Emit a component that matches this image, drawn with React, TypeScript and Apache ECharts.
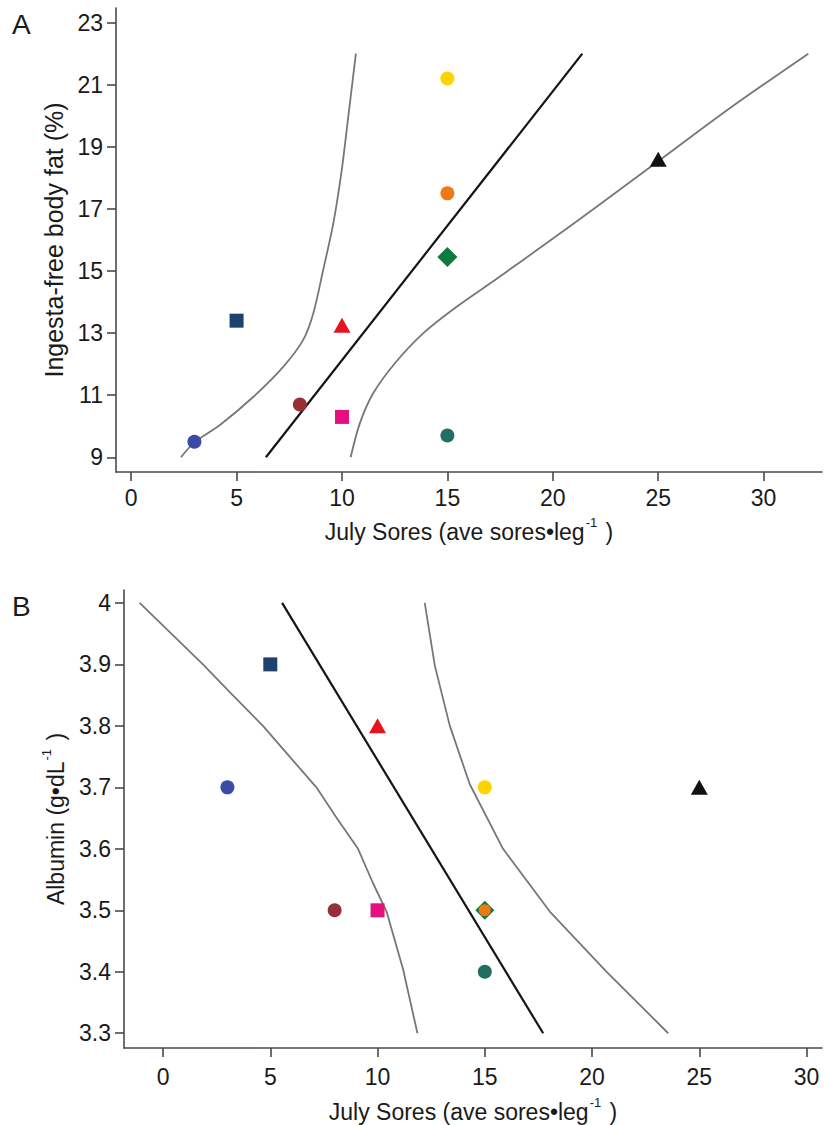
import React, { useEffect, useRef } from "react";
import * as echarts from "echarts";

// ---- data ----
const sores = [3, 5, 8, 10, 10, 15, 15, 15, 15, 25];
const bodyFat = [9.5, 13.4, 10.7, 13.25, 10.3, 9.7, 15.45, 17.5, 21.2, 18.6];
const albumin = [3.7, 3.9, 3.5, 3.8, 3.5, 3.4, 3.5, 3.5, 3.7, 3.7];

const xTicks = [0, 5, 10, 15, 20, 25, 30];
const yTicksA = [9, 11, 13, 15, 17, 19, 21, 23];
const yTicksB = [3.3, 3.4, 3.5, 3.6, 3.7, 3.8, 3.9, 4];

// fitted line and 95% CI bands, panel A
const fitAX = [6.39, 21.4];
const fitAY = [9.0, 22.0];
const bandALowX = [2.36, 3.0, 4.21, 5.8, 7.22, 8.16, 8.64, 9.11, 9.59, 9.99, 10.3, 10.51, 10.66];
const bandALowY = [9.0, 9.48, 10.04, 10.95, 11.92, 12.78, 13.64, 15.04, 16.54, 18.26, 19.98, 21.16, 22.0];
const bandAHighX = [10.41, 10.85, 11.48, 12.51, 13.86, 15.44, 17.34, 19.71, 22.08, 25.09, 28.41, 32.12];
const bandAHighY = [9.0, 10.1, 11.06, 12.03, 13.0, 13.85, 14.75, 15.9, 17.07, 18.58, 20.25, 22.0];

// fitted line and 95% CI bands, panel B
const fitBX = [5.55, 17.72];
const fitBY = [4.0, 3.3];
const bandBLowX = [-1.09, 1.86, 3.11, 4.66, 5.9, 7.15, 8.08, 9.09, 9.79, 10.42, 11.19, 11.86];
const bandBLowY = [4.0, 3.9, 3.855, 3.8, 3.75, 3.7, 3.651, 3.6, 3.544, 3.498, 3.404, 3.3];
const bandBHighX = [12.2, 12.67, 13.37, 14.3, 15.85, 18.03, 20.68, 23.55];
const bandBHighY = [4.0, 3.898, 3.8, 3.705, 3.6, 3.498, 3.4, 3.3];

// ---- marker styles ----
const markerColors = ["#3A4AA5", "#1D426E", "#953038", "#E8121C", "#E5107E", "#226F62", "#0B7C3A", "#EE7A12", "#FFD300", "#111111"];
const markerSymbols = ["circle", "rect", "circle", "triangle", "rect", "circle", "diamond", "circle", "circle", "triangle"];
const markerSizesA: any[] = [14, 14, 14, [17, 15], 14, 14, [20, 20], 14, 14, [17, 15]];
const markerSizesB: any[] = [14, 14, 14, [17, 15], 14, 14, [19, 19], 12, 14, [17, 15]];

const FONT = "'Liberation Sans', Arial, sans-serif";
const AXIS_COLOR = "#4a4a4a";
const TEXT_COLOR = "#1a1a1a";

function zip(xs: number[], ys: number[]) {
  return xs.map((x, i) => [x, ys[i]]);
}

function scatterData(ys: number[], sizes: any[]) {
  return sores.map((x, i) => ({
    value: [x, ys[i]],
    symbol: markerSymbols[i],
    symbolSize: sizes[i],
    itemStyle: { color: markerColors[i], opacity: 1 },
  }));
}

function richName(size: number) {
  return {
    a: { fontSize: size, fontFamily: FONT, color: TEXT_COLOR, lineHeight: size + 4, verticalAlign: "bottom" },
    s: { fontSize: 13, fontFamily: FONT, color: TEXT_COLOR, lineHeight: 13, verticalAlign: "top", padding: [0, 2, 15, 1] },
  };
}

function xAxis(gridIndex: number, min: number, max: number, nameGap: number, margin: number) {
  return {
    type: "value",
    gridIndex,
    min,
    max,
    axisLine: { show: true, onZero: false, lineStyle: { color: AXIS_COLOR, width: 1.6 } },
    axisTick: { show: true, length: 9, lineStyle: { color: AXIS_COLOR, width: 1.6 }, customValues: xTicks },
    axisLabel: { customValues: xTicks, margin, fontSize: 23, color: TEXT_COLOR, fontFamily: FONT },
    splitLine: { show: false },
    name: "{a|July Sores (ave sores•leg}{s|-1}{a| )}",
    nameLocation: "middle",
    nameGap,
    nameTextStyle: { rich: richName(23) },
  };
}

function yAxis(gridIndex: number, min: number, max: number, ticks: number[], name: string, nameGap: number, nameSize: number) {
  return {
    type: "value",
    gridIndex,
    min,
    max,
    axisLine: { show: true, onZero: false, lineStyle: { color: AXIS_COLOR, width: 1.6 } },
    axisTick: { show: true, length: 9, lineStyle: { color: AXIS_COLOR, width: 1.6 }, customValues: ticks },
    axisLabel: { customValues: ticks, margin: 13, fontSize: 23, color: TEXT_COLOR, fontFamily: FONT },
    splitLine: { show: false },
    name,
    nameLocation: "middle",
    nameGap,
    nameTextStyle: { rich: richName(nameSize), fontSize: nameSize, fontFamily: FONT, color: TEXT_COLOR },
  };
}

function lineSeries(xi: number, data: number[][], color: string, width: number, smooth: any) {
  return {
    type: "line",
    xAxisIndex: xi,
    yAxisIndex: xi,
    data,
    symbol: "none",
    smooth,
    lineStyle: { color, width },
    silent: true,
    z: 2,
  };
}

export default function App() {
  const ref = useRef<HTMLDivElement>(null);
  useEffect(() => {
    if (!ref.current) return;
    const chart = echarts.init(ref.current, undefined, { renderer: "svg" });
    chart.setOption({
      animation: false,
      backgroundColor: "#ffffff",
      grid: [
        { left: 116, top: 8, width: 706, height: 464 },
        { left: 124, top: 590, width: 698, height: 463 },
      ],
      xAxis: [xAxis(0, -0.72, 32.77, 44, 14), xAxis(1, -1.82, 30.72, 48, 17)],
      yAxis: [
        yAxis(0, 8.526, 23.47, yTicksA, "{a|Ingesta-free body fat (%)}", 49, 25),
        yAxis(1, 3.276, 4.021, yTicksB, "{a|Albumin (g•dL}{s|-1}{a| )}", 57, 23),
      ],
      graphic: [
        { type: "text", left: 12, top: 10, style: { text: "A", fontSize: 28, fontFamily: FONT, fill: TEXT_COLOR } },
        { type: "text", left: 12, top: 592, style: { text: "B", fontSize: 28, fontFamily: FONT, fill: TEXT_COLOR } },
      ],
      series: [
        lineSeries(0, zip(bandALowX, bandALowY), "#777777", 1.8, 0.3),
        lineSeries(0, zip(bandAHighX, bandAHighY), "#777777", 1.8, 0.3),
        lineSeries(0, zip(fitAX, fitAY), "#151515", 2.2, false),
        {
          type: "scatter",
          xAxisIndex: 0,
          yAxisIndex: 0,
          data: scatterData(bodyFat, markerSizesA),
          z: 5,
        },
        lineSeries(1, zip(bandBLowX, bandBLowY), "#777777", 1.8, false),
        lineSeries(1, zip(bandBHighX, bandBHighY), "#777777", 1.8, false),
        lineSeries(1, zip(fitBX, fitBY), "#151515", 2.2, false),
        {
          type: "scatter",
          xAxisIndex: 1,
          yAxisIndex: 1,
          data: scatterData(albumin, markerSizesB),
          z: 5,
        },
      ],
    });
    return () => chart.dispose();
  }, []);
  return (
    <div
      ref={ref}
      style={{ position: "fixed", left: 0, top: 0, width: 824, height: 1125, background: "#fff" }}
    />
  );
}
